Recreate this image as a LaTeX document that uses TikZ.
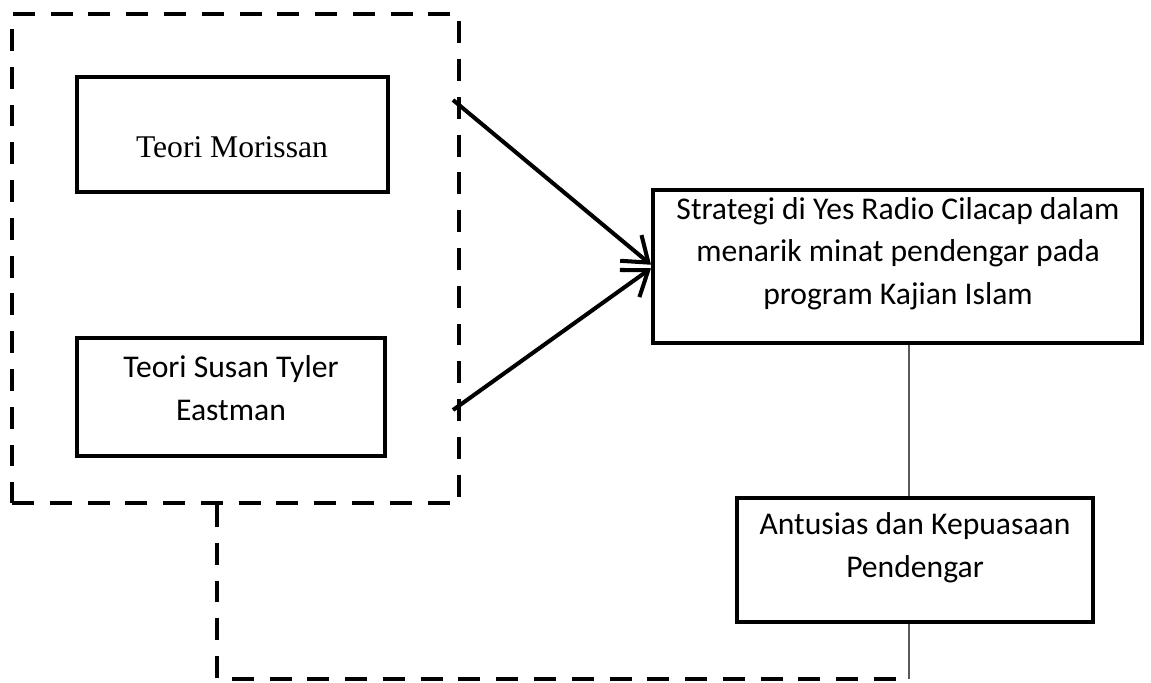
\documentclass[tikz,border=0pt]{standalone}
\usepackage{fontspec}
\setmainfont{Carlito}
\newfontfamily\timesfont{Liberation Serif}
\usetikzlibrary{arrows.meta,positioning,calc}

\begin{document}
\begin{tikzpicture}[x=0.02cm, y=-0.02cm,
  box/.style={rectangle, draw=black, line width=2.3pt, inner sep=0pt},
  boxtext/.style={font=\fontsize{18}{24}\selectfont, align=center, inner sep=0pt, anchor=base},
  group/.style={rectangle, draw=black, line width=2.3pt, dash pattern=on 12.5pt off 9pt, inner sep=0pt},
  feed/.style={-{Straight Barb[length=13pt,width=19pt,line width=2.3pt]}, line width=2.3pt},
  link/.style={draw=black!65, line width=1.1pt},
  loopback/.style={line width=2.3pt, dash pattern=on 12.5pt off 9pt},
]
  \useasboundingbox (0,0) rectangle (1151,682);

  % theory group
  \node[group, minimum width=8.94cm, minimum height=9.78cm] (grp) at (235.5,258.5) {};
  \node[box, minimum width=6.22cm, minimum height=2.3cm] (morissan) at (232.5,134.5) {};
  \node[boxtext, font=\timesfont\fontsize{18}{24}\selectfont] (morissan-t) at (232,157) {Teori Morissan};
  \node[box, minimum width=6.16cm, minimum height=2.36cm] (eastman) at (231,397) {};
  \node[boxtext] (eastman-t) at (231,420) {Teori Susan Tyler\\Eastman};

  % strategy and outcome
  \node[box, minimum width=9.78cm, minimum height=3.06cm] (strat) at (897.5,266.5) {};
  \node[boxtext] (strat-t) at (898,304) {Strategi di Yes Radio Cilacap dalam\\menarik minat pendengar pada\\program Kajian Islam};
  \node[box, minimum width=7.12cm, minimum height=2.48cm] (puas) at (915,560) {};
  \node[boxtext] (puas-t) at (915,577) {Antusias dan Kepuasaan\\Pendengar};

  \coordinate (out1) at (453,100);
  \coordinate (out2) at (453,410);
  \draw[feed] (out1) -- ([yshift=1pt]strat.west);
  \draw[feed] (out2) -- ([yshift=-1pt]strat.west);

  \coordinate (linkx) at (909,0);
  \draw[link] (strat.south -| linkx) -- (puas.north -| linkx);

  % feedback loop
  \coordinate (turn1) at (217,679);
  \coordinate (turn2) at (909,679);
  \draw[loopback] (grp.south -| turn1) -- (turn1) -- (turn2);
  \draw[link] (turn2) -- (puas.south -| turn2);
\end{tikzpicture}
\end{document}
